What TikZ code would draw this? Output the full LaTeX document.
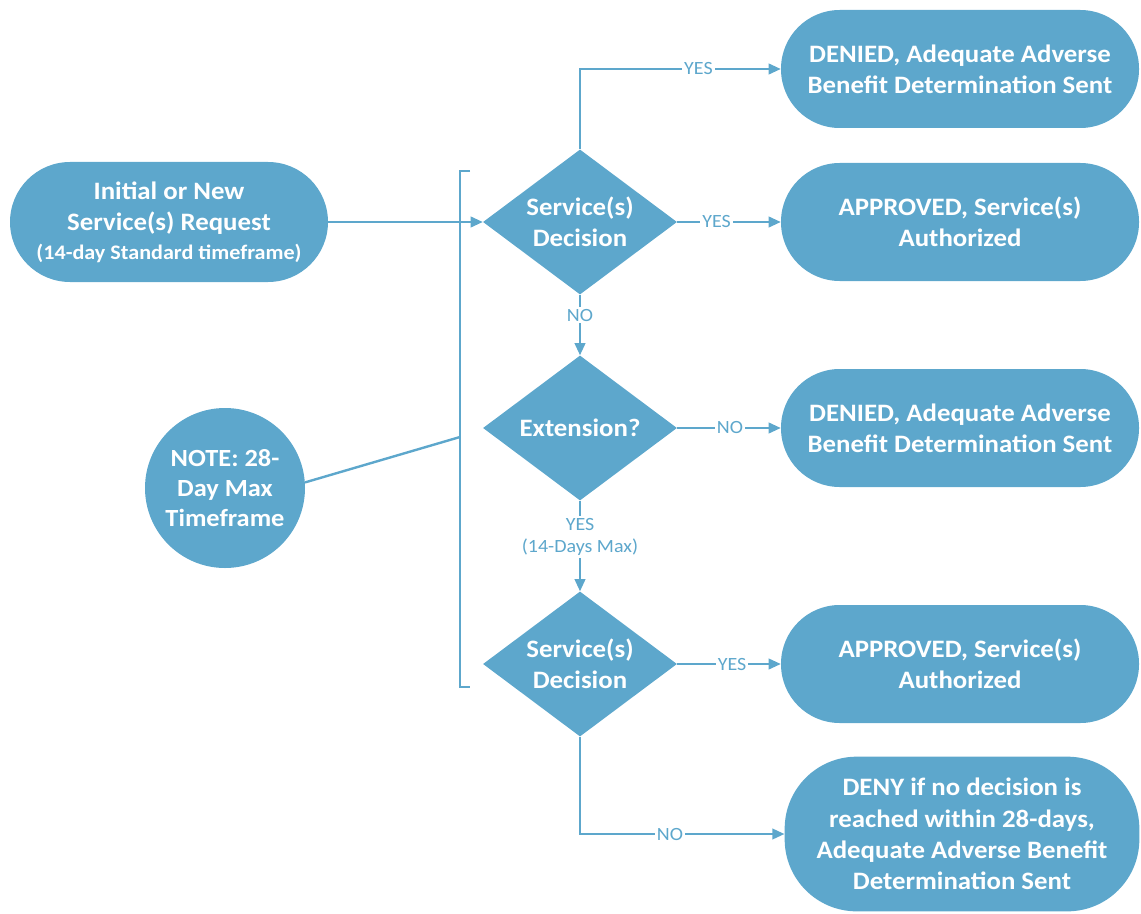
\documentclass[tikz,border=0pt]{standalone}
\usepackage{fontspec}
\setmainfont{Carlito}[FakeStretch=1.07]
\usetikzlibrary{shapes.geometric,arrows.meta}
\definecolor{flowblue}{RGB}{93,167,204}
\tikzset{
  base/.style={fill=flowblue, draw=none, text=white, font=\bfseries\fontsize{18.8}{23.5}\selectfont, align=center, inner sep=0pt},
  endbox/.style={base, rectangle, minimum width=268.5pt, minimum height=88.5pt, rounded corners=44pt},
  decision/.style={base, diamond, minimum width=145.5pt, minimum height=108.75pt, inner sep=-9pt},
  notecircle/.style={base, circle, minimum size=120pt},
  conn/.style={draw=flowblue, line width=1.3pt, -{Triangle[length=9pt,width=8pt]}},
  lbl/.style={fill=white, text=flowblue, inner sep=1.5pt, font=\fontsize{14}{16.5}\selectfont, align=center},
  bracketline/.style={draw=flowblue, line width=1.8pt}
}
\begin{document}
\begin{tikzpicture}[x=0.75pt, y=-0.75pt]
\useasboundingbox (0,0) rectangle (1141,913);

\node[base, rectangle, minimum width=238.5pt, minimum height=90pt, rounded corners=45pt] (init) at (169,222)
  {Initial or New\\Service(s) Request\\[-2pt]{\fontsize{15.5}{18}\selectfont(14-day Standard timeframe)}};

\node[notecircle, font=\bfseries\fontsize{18.5}{22.5}\selectfont] (note) at (225,488) {NOTE: 28-\\Day Max\\Timeframe};

\node[decision] (d1) at (580,222) {Service(s)\\Decision};
\node[decision] (d2) at (580,428) {Extension?};
\node[decision] (d3) at (580,664) {Service(s)\\Decision};

\node[endbox] (b1) at (960,69) {DENIED, Adequate Adverse\\Benefit Determination Sent};
\node[endbox] (b2) at (960,222) {APPROVED, Service(s)\\Authorized};
\node[endbox] (b3) at (960,428) {DENIED, Adequate Adverse\\Benefit Determination Sent};
\node[endbox] (b4) at (960,664) {APPROVED, Service(s)\\Authorized};
\node[endbox, minimum width=266pt, minimum height=116pt, rounded corners=54pt] (b5) at (962,834)
  {DENY if no decision is\\reached within 28-days,\\Adequate Adverse Benefit\\Determination Sent};

% bracket
\coordinate (brt) at (470,171);
\coordinate (brtl) at (460,171);
\coordinate (brbl) at (460,687);
\coordinate (brb) at (470,687);
\coordinate (brmid) at (460,437);
\draw[bracketline] (brt) -- (brtl) -- (brbl) -- (brb);
\draw[draw=flowblue, line width=1.8pt] (note.4) -- (brmid);

% connectors
\draw[conn] (init.east) -- (d1.west);
\draw[conn] (d1.north) |- node[lbl, pos=0.795] {YES} (b1.west);
\draw[conn] (d1.east) -- node[lbl, pos=0.38] {YES} (b2.west);
\draw[conn] (d1.south) -- node[lbl, pos=0.34] {NO} (d2.north);
\draw[conn] (d2.east) -- node[lbl, pos=0.51] {NO} (b3.west);
\draw[conn] (d2.south) -- node[lbl, pos=0.4] {YES\\(14-Days Max)} (d3.north);
\draw[conn] (d3.east) -- node[lbl, pos=0.53] {YES} (b4.west);
\draw[conn] (d3.south) |- node[lbl, pos=0.72] {NO} (b5.west);
\end{tikzpicture}
\end{document}
